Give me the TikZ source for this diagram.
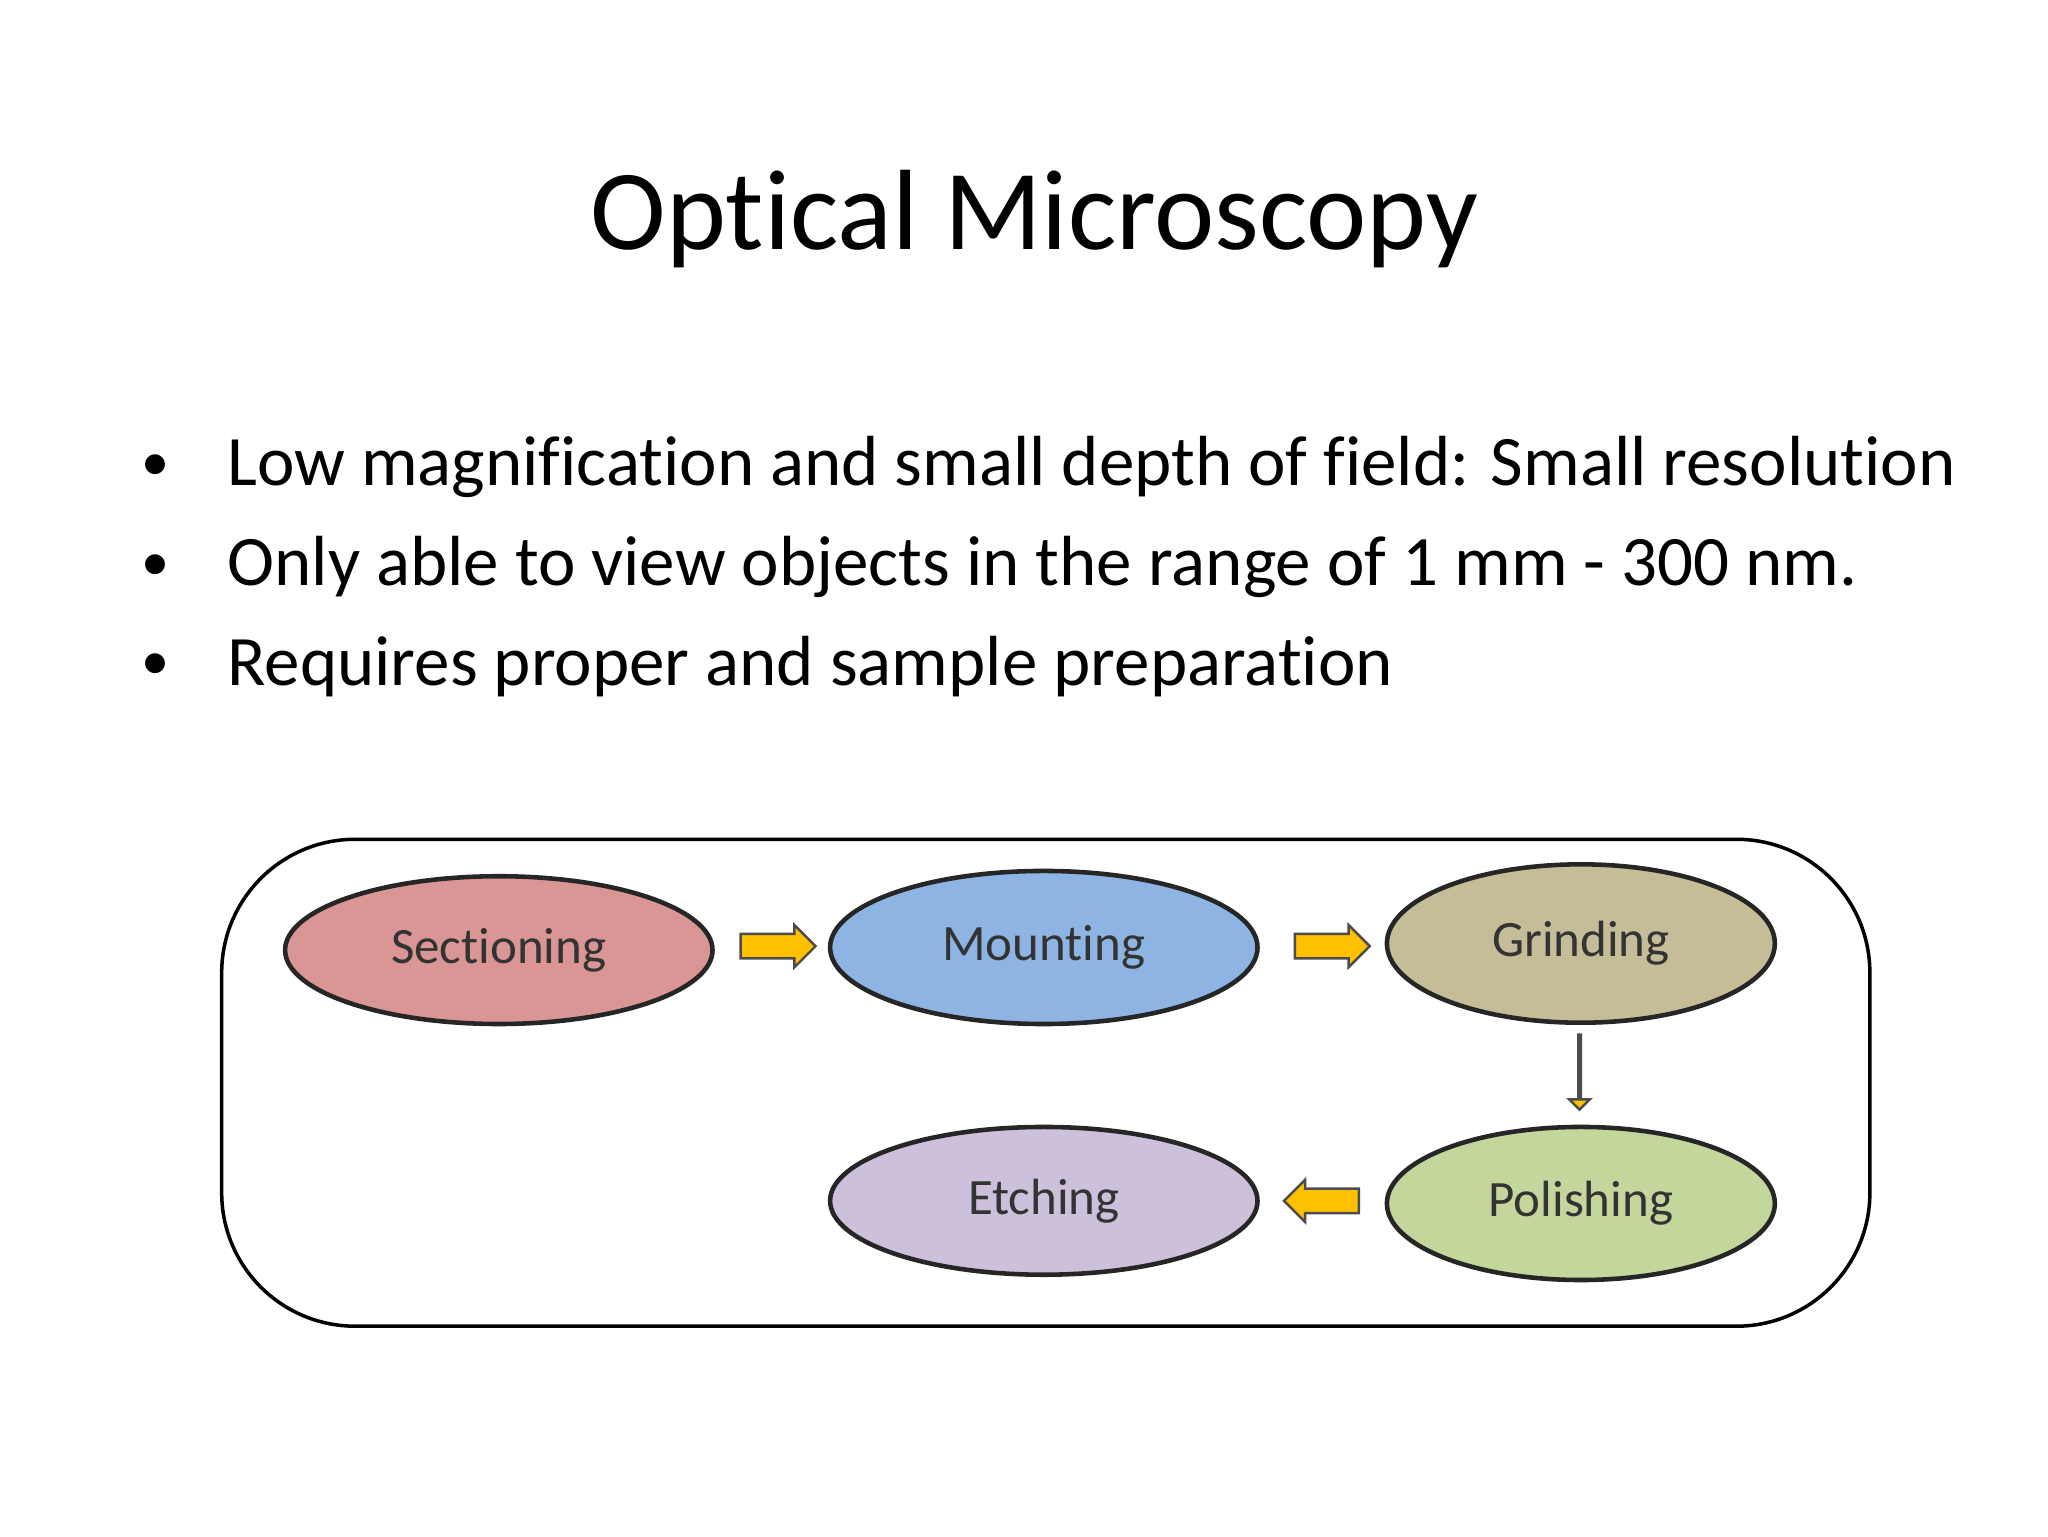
\documentclass[tikz,border=0pt]{standalone}
\usepackage{fontspec}
\setmainfont[Ligatures=NoCommon]{Carlito}
\usetikzlibrary{shapes.geometric,shapes.arrows}
\begin{document}
\begin{tikzpicture}[x=0.013196cm,y=-0.013196cm,
 stage/.style={ellipse,draw=black!85,line width=1.3pt,inner sep=0pt,font=\fontsize{14.5}{17}\selectfont,text=black!80},
 blk/.style={single arrow,draw=black!70,fill={rgb,255:red,255;green,192;blue,0},line width=0.7pt,inner xsep=0pt,inner ysep=0.11cm,single arrow head extend=0.09cm,minimum height=0.75cm},
 bul/.style={anchor=west,font=\fontsize{20.2}{24}\selectfont}]
\useasboundingbox (0,0) rectangle (1552,1164);
\node (title) at (784,166) {\fontsize{32.5}{39}\selectfont Optical Microscopy};
\node (d1) at (118,354) {\fontsize{16}{16}\selectfont •};
\node (d2) at (118,430) {\fontsize{16}{16}\selectfont •};
\node (d3) at (118,505) {\fontsize{16}{16}\selectfont •};
\node[bul] (b1) at (163,354) {Low magnification and small depth of field: Small resolution};
\node[bul] (b2) at (163,430) {Only able to view objects in the range of 1 mm - 300 nm.};
\node[bul] (b3) at (163,505) {Requires proper and sample preparation};
\draw[line width=1pt,rounded corners=38pt] (168,636) rectangle (1417,1005);
\node[stage,fill={rgb,255:red,217;green,150;blue,148},minimum width=4.275cm,minimum height=1.478cm] (s) at (378,720) {Sectioning};
\node[stage,fill={rgb,255:red,141;green,180;blue,226},minimum width=4.275cm,minimum height=1.531cm] (m) at (791,718) {Mounting};
\node[stage,fill={rgb,255:red,196;green,189;blue,151},minimum width=3.88cm,minimum height=1.584cm] (g) at (1198,715) {Grinding};
\node[stage,fill={rgb,255:red,195;green,214;blue,155},minimum width=3.88cm,minimum height=1.531cm] (p) at (1198,912) {Polishing};
\node[stage,fill={rgb,255:red,204;green,192;blue,218},minimum width=4.275cm,minimum height=1.478cm] (e) at (791,910) {Etching};
\node[blk] (a1) at (585,717) {};
\node[blk] (a2) at (1005,717) {};
\node[blk,shape border rotate=270] (a3) at (1197,812) {};
\node[blk,shape border rotate=180] (a4) at (1006,910) {};
\end{tikzpicture}
\end{document}
